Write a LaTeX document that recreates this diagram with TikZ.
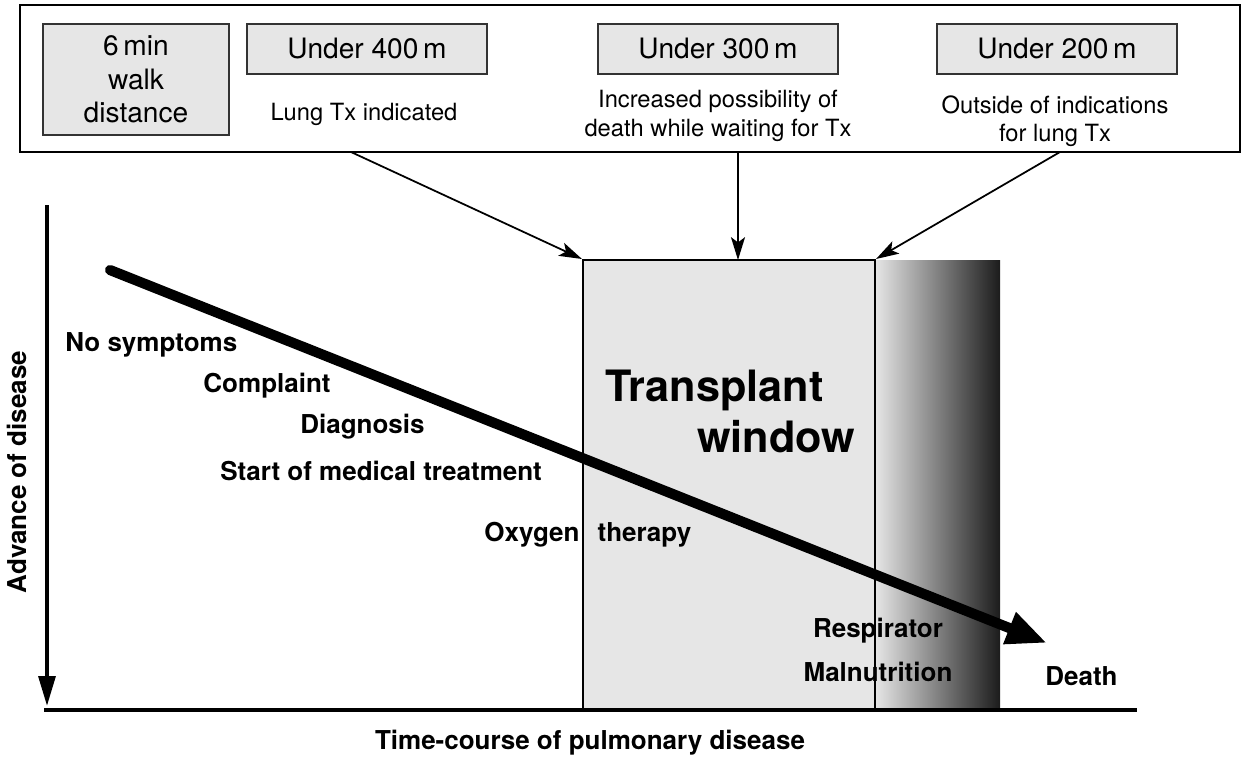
\documentclass[tikz,border=0pt]{standalone}
\usepackage{fontspec}
\setmainfont{TeX Gyre Heros}
\usetikzlibrary{arrows.meta, positioning}
\definecolor{boxGray}{HTML}{E6E6E6}
\definecolor{winGray}{HTML}{E6E6E6}
\definecolor{fadeLight}{HTML}{E6E6E6}
\definecolor{fadeDark}{HTML}{1C1C1C}

\begin{document}
\begin{tikzpicture}[x=0.02cm, y=-0.02cm,
  distbox/.style={draw=black!80, fill=boxGray, line width=0.7pt, align=center,
    inner sep=0pt, font=\fontsize{16}{19}\selectfont},
  desc/.style={align=center, inner sep=0pt, font=\fontsize{13.5}{16.2}\selectfont},
  stage/.style={anchor=west, inner sep=0pt, font=\bfseries\fontsize{14.8}{17}\selectfont},
  bigtitle/.style={anchor=west, inner sep=0pt, font=\bfseries\fontsize{24.6}{28}\selectfont},
  pointer/.style={-{Stealth[length=13pt, width=8pt, inset=3pt]}, line width=1pt}]
  \useasboundingbox (0,0) rectangle (1242,758);

  % walk distance panel
  \node[draw, line width=1.3pt, minimum width=24.4cm, minimum height=2.94cm, inner sep=0pt] (panel) at (630,78.5) {};
  \node[distbox, minimum width=3.72cm, minimum height=2.22cm] (walk) at (136,79.5) {6\,min\\walk\\distance};
  \node[distbox, minimum width=4.8cm, minimum height=1cm] (u400) at (367,49) {Under 400\,m};
  \node[distbox, minimum width=4.8cm, minimum height=1cm] (u300) at (718,49) {Under 300\,m};
  \node[distbox, minimum width=4.8cm, minimum height=1cm] (u200) at (1057,49) {Under 200\,m};
  \node[desc] (lung) at (364,114) {Lung Tx indicated};
  \node[desc] (wait) at (718,116) {Increased possibility of\\death while waiting for Tx};
  \node[desc] (outside) at (1055,121) {Outside of indications\\for lung Tx};

  % transplant window
  \fill[left color=fadeLight, right color=fadeDark] (875,260) rectangle (1000,710);
  \node[draw, fill=winGray, line width=1.2pt, minimum width=5.84cm, minimum height=9cm, inner sep=0pt] (window) at (729,485) {};
  \coordinate (p400) at (351,152);
  \coordinate (p300) at (738,152);
  \coordinate (p200) at (1060,152);
  \coordinate (w300) at (738,260);
  \draw[pointer] (p400) -- (window.north west);
  \draw[pointer] (p300) -- (w300);
  \draw[pointer] (p200) -- (window.north east);

  % axes
  \coordinate (ytop) at (47,205);
  \coordinate (ybot) at (47,706);
  \coordinate (xstart) at (44,710);
  \coordinate (xend) at (1137,710);
  \draw[line width=2.2pt, -{Triangle[length=17pt, width=9.5pt]}] (ytop) -- (ybot);
  \draw[line width=2pt] (xstart) -- (xend);

  % course of disease
  \coordinate (onset) at (110,270);
  \coordinate (end) at (1047,643);
  \draw[line width=5.8pt, line cap=round, -{Triangle[length=23pt, width=18pt]}] (onset) -- (end);

  \node[stage] (nosym) at (65,345) {No symptoms};
  \node[stage] (complaint) at (203,386) {Complaint};
  \node[stage] (diag) at (300,427) {Diagnosis};
  \node[stage] (treat) at (220,471) {Start of medical treatment};
  \node[stage] (oxygen) at (484,535) {Oxygen\hspace{0.7em}therapy};
  \node[bigtitle] (tx) at (605,390) {Transplant};
  \node[bigtitle] (win) at (697,437) {window};
  \node[stage, anchor=center] (resp) at (878,631) {Respirator};
  \node[stage, anchor=center] (maln) at (878,672) {Malnutrition};
  \node[stage] (death) at (1045,676) {Death};
  \node[stage, anchor=center] (time) at (590,743) {Time-course of pulmonary disease};
  \node[stage, anchor=center, rotate=90] (adv) at (17,472) {Advance of disease};
\end{tikzpicture}
\end{document}
